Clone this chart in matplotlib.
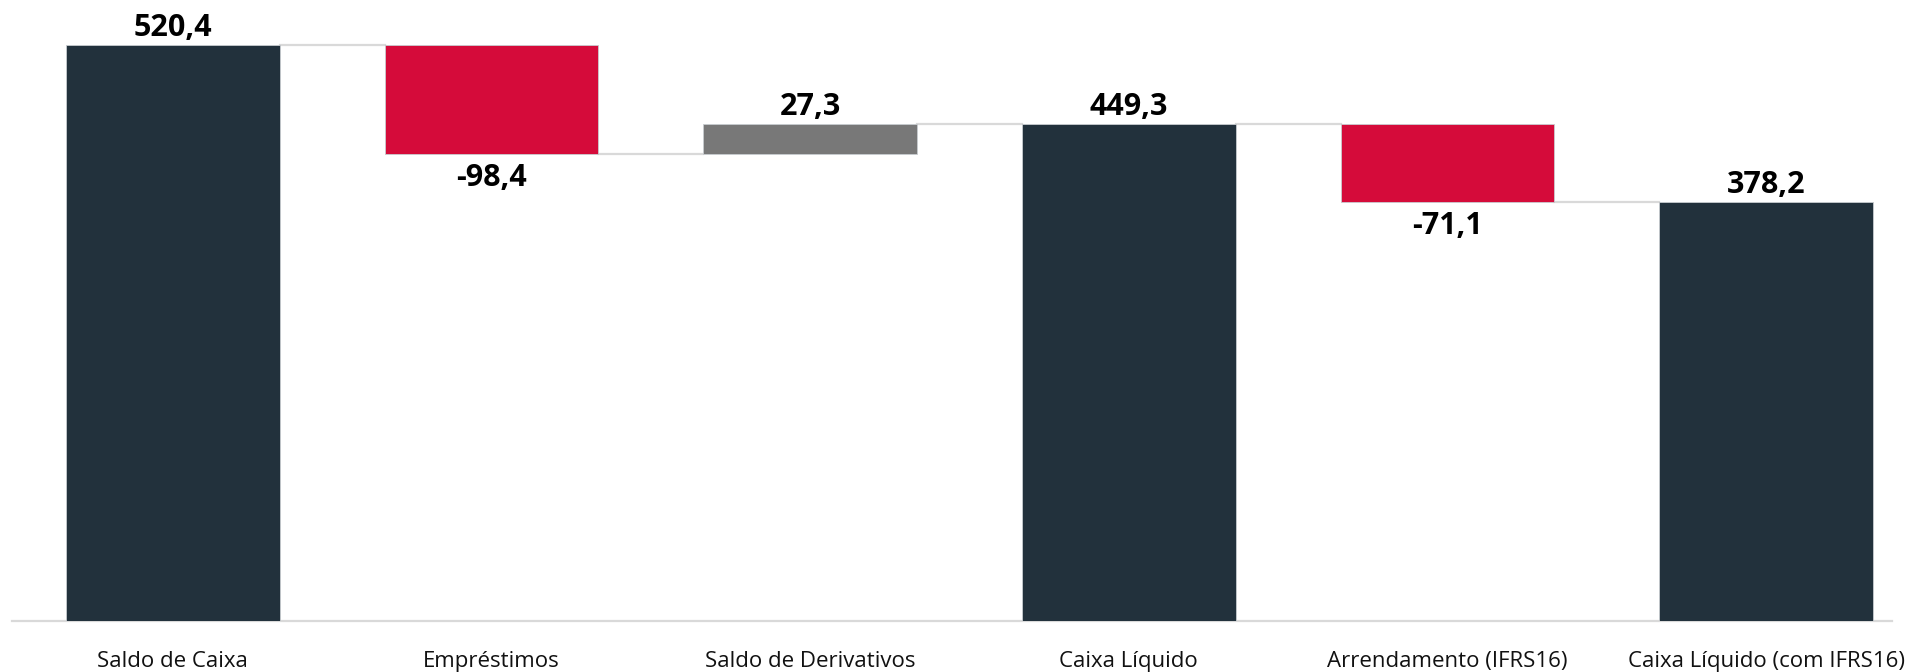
import matplotlib
matplotlib.use("Agg")
import matplotlib.pyplot as plt

# data
categories = ["Saldo de Caixa", "Empréstimos", "Saldo de Derivativos",
              "Caixa Líquido", "Arrendamento (IFRS16)", "Caixa Líquido (com IFRS16)"]
values = [520.4, -98.4, 27.3, 449.3, -71.1, 378.2]
is_total = [True, False, False, True, False, True]
labels = ["520,4", "-98,4", "27,3", "449,3", "-71,1", "378,2"]

navy = "#22313c"
red = "#d50b3a"
grey = "#787878"

plt.rcParams["font.family"] = ["Open Sans", "DejaVu Sans"]

fig = plt.figure(figsize=(19.14, 6.72), dpi=100)
ax = fig.add_axes([12 / 1914, 51 / 672, 1880 / 1914, 621 / 672])

# build waterfall bottoms/heights
bottoms, heights, colors, ends = [], [], [], []
running = 0
for v, tot in zip(values, is_total):
    if tot:
        bottoms.append(0)
        running = v
        colors.append(navy)
    else:
        bottoms.append(running)
        running = running + v
        colors.append(red if v < 0 else grey)
    heights.append(v)
    ends.append(running)

x = list(range(len(values)))
w = 0.67
ax.bar(x, heights, bottom=bottoms, width=w, color=colors,
       edgecolor="#c8ccd0", linewidth=0.6, zorder=3)

# connectors
for i in range(len(values) - 1):
    ax.plot([i + w / 2, i + 1 - w / 2], [ends[i], ends[i]],
            color="#d9d9d9", linewidth=1.6, zorder=2)

# value labels
for i, (b, h, lab) in enumerate(zip(bottoms, heights, labels)):
    if h >= 0:
        ax.annotate(lab, (i, b + h), xytext=(0, 6.5), textcoords="offset points",
                    ha="center", va="baseline", fontsize=22, fontweight="bold",
                    color="black")
    else:
        ax.annotate(lab, (i, b + h), xytext=(0, -23), textcoords="offset points",
                    ha="center", va="baseline", fontsize=22, fontweight="bold",
                    color="black")

ax.set_xlim(-0.505, 5.395)
ax.set_ylim(0, 561)
ax.set_xticks(x)
ax.set_xticklabels(categories, fontsize=16, color="#111111")
for t in ax.get_xticklabels():
    t.set_va("baseline")
ax.tick_params(axis="x", length=0, pad=33)
ax.set_yticks([])
for s in ["top", "right", "left"]:
    ax.spines[s].set_visible(False)
ax.spines["bottom"].set_color("#d9d9d9")
ax.spines["bottom"].set_linewidth(1.6)

fig.savefig("out.png", dpi=100)
